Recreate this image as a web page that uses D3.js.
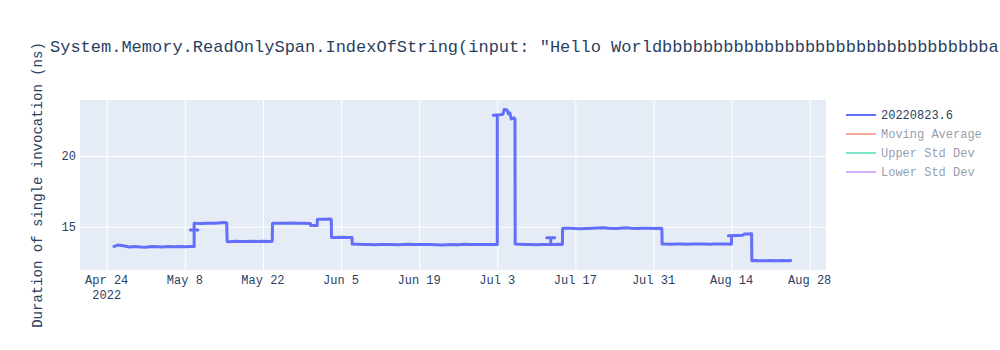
<!DOCTYPE html>
<html>
<head>
<meta charset="utf-8">
<script src="https://cdn.jsdelivr.net/npm/d3@7"></script>
<style>
  body { margin: 0; background: #fff; }
  text { font-family: "Liberation Mono", "Courier New", monospace; }
</style>
</head>
<body>
<svg id="chart" width="1000" height="350"></svg>
<script>
// benchmark run times
var times = [
  "2022-04-25 02:00", "2022-04-26 00:00", "2022-04-27 00:00", "2022-04-28 00:00", "2022-04-29 00:00",
  "2022-04-30 00:00", "2022-05-01 00:00", "2022-05-02 00:00", "2022-05-03 00:00", "2022-05-04 00:00",
  "2022-05-05 00:00", "2022-05-06 00:00", "2022-05-07 00:00", "2022-05-08 00:00", "2022-05-09 00:00",
  "2022-05-09 16:00", "2022-05-09 16:00", "2022-05-09 00:00", "2022-05-10 08:00", "2022-05-09 16:00",
  "2022-05-09 16:00", "2022-05-10 00:00", "2022-05-11 00:00", "2022-05-12 00:00", "2022-05-13 00:00",
  "2022-05-14 00:00", "2022-05-15 00:00", "2022-05-15 12:00",
  "2022-05-15 14:00", "2022-05-16 00:00", "2022-05-17 00:00", "2022-05-18 00:00", "2022-05-19 00:00",
  "2022-05-20 00:00", "2022-05-21 00:00", "2022-05-22 00:00", "2022-05-23 00:00", "2022-05-23 16:00",
  "2022-05-23 17:00", "2022-05-24 00:00", "2022-05-25 00:00", "2022-05-26 00:00", "2022-05-27 00:00",
  "2022-05-28 00:00", "2022-05-29 00:00", "2022-05-30 12:00", "2022-05-30 14:00", "2022-05-31 12:00",
  "2022-05-31 17:00", "2022-05-31 18:00", "2022-06-01 00:00", "2022-06-02 00:00", "2022-06-03 00:00",
  "2022-06-03 06:00", "2022-06-03 07:00", "2022-06-04 00:00", "2022-06-05 00:00", "2022-06-06 00:00",
  "2022-06-06 23:00", "2022-06-07 00:00", "2022-06-08 00:00", "2022-06-09 00:00", "2022-06-10 00:00",
  "2022-06-11 00:00", "2022-06-12 00:00", "2022-06-13 00:00", "2022-06-14 00:00", "2022-06-15 00:00",
  "2022-06-16 00:00", "2022-06-17 00:00", "2022-06-18 00:00", "2022-06-19 00:00", "2022-06-20 00:00",
  "2022-06-21 00:00", "2022-06-22 00:00", "2022-06-23 00:00", "2022-06-24 00:00", "2022-06-25 00:00",
  "2022-06-26 00:00", "2022-06-27 00:00", "2022-06-28 00:00", "2022-06-29 00:00", "2022-06-30 00:00",
  "2022-07-01 00:00", "2022-07-02 00:00", "2022-07-03 00:00",
  "2022-07-03 00:00", "2022-07-02 07:00", "2022-07-03 12:00", "2022-07-04 00:00", "2022-07-04 06:00",
  "2022-07-04 18:00", "2022-07-05 00:00", "2022-07-05 06:00", "2022-07-05 12:00", "2022-07-06 00:00",
  "2022-07-06 04:00",
  "2022-07-06 05:00", "2022-07-07 00:00", "2022-07-08 00:00", "2022-07-09 00:00", "2022-07-10 00:00",
  "2022-07-11 00:00", "2022-07-12 14:00", "2022-07-12 14:00", "2022-07-11 21:00", "2022-07-13 07:00",
  "2022-07-12 14:00", "2022-07-12 14:00", "2022-07-13 00:00", "2022-07-14 00:00", "2022-07-14 16:00",
  "2022-07-14 17:00", "2022-07-15 00:00", "2022-07-16 00:00", "2022-07-17 00:00", "2022-07-18 00:00",
  "2022-07-19 00:00", "2022-07-20 00:00", "2022-07-21 00:00", "2022-07-22 00:00", "2022-07-23 00:00",
  "2022-07-24 00:00", "2022-07-25 00:00", "2022-07-26 00:00", "2022-07-27 00:00", "2022-07-28 00:00",
  "2022-07-29 00:00", "2022-07-30 00:00", "2022-07-31 00:00", "2022-08-01 00:00", "2022-08-01 12:00",
  "2022-08-01 13:00", "2022-08-02 00:00", "2022-08-03 00:00", "2022-08-04 00:00", "2022-08-05 00:00",
  "2022-08-06 00:00", "2022-08-07 00:00", "2022-08-08 00:00", "2022-08-09 00:00", "2022-08-10 00:00",
  "2022-08-11 00:00", "2022-08-12 00:00", "2022-08-13 00:00", "2022-08-13 23:00",
  "2022-08-14 00:00", "2022-08-13 10:00", "2022-08-15 00:00", "2022-08-16 00:00", "2022-08-16 06:00",
  "2022-08-17 00:00", "2022-08-17 14:00",
  "2022-08-17 15:00", "2022-08-18 00:00", "2022-08-19 00:00", "2022-08-20 00:00", "2022-08-21 00:00",
  "2022-08-22 00:00", "2022-08-23 00:00", "2022-08-24 00:00", "2022-08-24 19:00"
];
var values = [
  13.58, 13.70, 13.66, 13.57, 13.60,
  13.56, 13.55, 13.60, 13.58, 13.56,
  13.60, 13.58, 13.61, 13.59, 13.60,
  13.60, 14.77, 14.77, 14.77, 14.77,
  15.25, 15.24, 15.23, 15.25, 15.24,
  15.27, 15.30, 15.26,
  13.95, 13.93, 13.97, 13.95, 13.96,
  13.97, 13.96, 13.97, 13.96, 13.97,
  15.23, 15.24, 15.25, 15.24, 15.26,
  15.25, 15.24, 15.22, 15.08, 15.10,
  15.08, 15.52, 15.53, 15.52, 15.54,
  15.52, 14.24, 14.24, 14.25, 14.23,
  14.24, 13.77, 13.76, 13.75, 13.74,
  13.72, 13.74, 13.75, 13.74, 13.73,
  13.74, 13.76, 13.75, 13.74, 13.74,
  13.75, 13.73, 13.70, 13.72, 13.74,
  13.73, 13.76, 13.75, 13.74, 13.75,
  13.74, 13.75, 13.74,
  22.90, 22.88, 22.92, 22.95, 23.30,
  23.25, 22.98, 23.05, 22.62, 22.70,
  22.62,
  13.77, 13.76, 13.75, 13.74, 13.73,
  13.74, 13.75, 14.22, 14.22, 14.22,
  14.22, 13.75, 13.74, 13.76, 13.75,
  14.88, 14.90, 14.89, 14.87, 14.86,
  14.88, 14.90, 14.91, 14.92, 14.89,
  14.88, 14.90, 14.93, 14.89, 14.88,
  14.90, 14.89, 14.88, 14.90, 14.88,
  13.78, 13.77, 13.76, 13.77, 13.78,
  13.76, 13.77, 13.78, 13.77, 13.76,
  13.77, 13.78, 13.77, 13.76,
  14.36, 14.36, 14.38, 14.40, 14.48,
  14.49, 14.50,
  12.60, 12.61, 12.60, 12.59, 12.61,
  12.60, 12.61, 12.60, 12.61
];
var tickDates = ["2022-04-24", "2022-05-08", "2022-05-22", "2022-06-05", "2022-06-19",
                 "2022-07-03", "2022-07-17", "2022-07-31", "2022-08-14", "2022-08-28"];
var yTicks = [15, 20];
var legendNames = ["20220823.6", "Moving Average", "Upper Std Dev", "Lower Std Dev"];
var legendColors = ["#636efa", "#EF553B", "#00cc96", "#ab63fa"];
var legendOn = [true, false, false, false];
// the title runs past the right edge in the original, only the visible part is kept
var title = 'System.Memory.ReadOnlySpan.IndexOfString(input: "Hello World' + "b".repeat(32) + "a";

var parse = d3.timeParse("%Y-%m-%d %H:%M");
var parseDay = d3.timeParse("%Y-%m-%d");
var data = times.map(function(t, i) { return {t: parse(t), v: values[i]}; });

var svg = d3.select("#chart");
var pLeft = 80, pRight = 826, pTop = 100, pBottom = 270;

var x = d3.scaleTime()
  .domain([parse("2022-04-19 05:00"), parse("2022-08-30 22:00")])
  .range([pLeft, pRight]);
var y = d3.scaleLinear()
  .domain([11.94, 23.96])
  .range([pBottom, pTop]);

svg.append("rect")
  .attr("x", pLeft).attr("y", pTop)
  .attr("width", pRight - pLeft).attr("height", pBottom - pTop)
  .style("fill", "#e5ecf6");

// grid
var ticks = tickDates.map(parseDay);
svg.append("g")
  .attr("transform", "translate(0," + pBottom + ")")
  .call(d3.axisBottom(x).tickValues(ticks).tickSize(-(pBottom - pTop)).tickFormat(""))
  .call(function(g) {
    g.select(".domain").remove();
    g.selectAll("line").style("stroke", "#fff").style("stroke-width", 1);
  });
svg.append("g")
  .attr("transform", "translate(" + pLeft + ",0)")
  .call(d3.axisLeft(y).tickValues(yTicks).tickSize(-(pRight - pLeft)).tickFormat(""))
  .call(function(g) {
    g.select(".domain").remove();
    g.selectAll("line").style("stroke", "#fff").style("stroke-width", 1);
  });

// tick labels
var fmt = d3.timeFormat("%b %-d");
svg.append("g").selectAll("text")
  .data(ticks)
  .enter().append("text")
  .attr("x", function(d) { return x(d); })
  .attr("y", 284)
  .attr("text-anchor", "middle")
  .style("font-size", "12px")
  .style("fill", "#2a3f5f")
  .text(function(d) { return fmt(d); });
svg.append("text")
  .attr("x", x(ticks[0])).attr("y", 299)
  .attr("text-anchor", "middle")
  .style("font-size", "12px").style("fill", "#2a3f5f")
  .text("2022");

svg.append("g").selectAll("text")
  .data(yTicks)
  .enter().append("text")
  .attr("x", 76)
  .attr("y", function(d) { return y(d) + 4; })
  .attr("text-anchor", "end")
  .style("font-size", "12px")
  .style("fill", "#2a3f5f")
  .text(function(d) { return d; });

// line
var line = d3.line()
  .x(function(d) { return x(d.t); })
  .y(function(d) { return y(d.v); });

svg.append("path")
  .datum(data)
  .attr("d", line)
  .style("fill", "none")
  .style("stroke", "#636efa")
  .style("stroke-width", 3)
  .style("stroke-linejoin", "round");

// titles
svg.append("text")
  .attr("x", 50).attr("y", 52)
  .style("font-size", "17px")
  .style("fill", "#2a3f5f")
  .text(title);

svg.append("text")
  .attr("transform", "translate(42," + ((pTop + pBottom) / 2) + ") rotate(-90)")
  .attr("text-anchor", "middle")
  .style("font-size", "14px")
  .style("fill", "#2a3f5f")
  .text("Duration of single invocation (ns)");

// legend
var leg = svg.append("g").selectAll("g")
  .data(legendNames)
  .enter().append("g")
  .attr("transform", function(d, i) { return "translate(846," + (115 + i * 19) + ")"; })
  .style("opacity", function(d, i) { return legendOn[i] ? 1 : 0.5; });
leg.append("line")
  .attr("x1", 0).attr("x2", 30)
  .style("stroke", function(d, i) { return legendColors[i]; })
  .style("stroke-width", 2);
leg.append("text")
  .attr("x", 35).attr("y", 4)
  .style("font-size", "12px")
  .style("fill", "#2a3f5f")
  .text(function(d) { return d; });
</script>
</body>
</html>
